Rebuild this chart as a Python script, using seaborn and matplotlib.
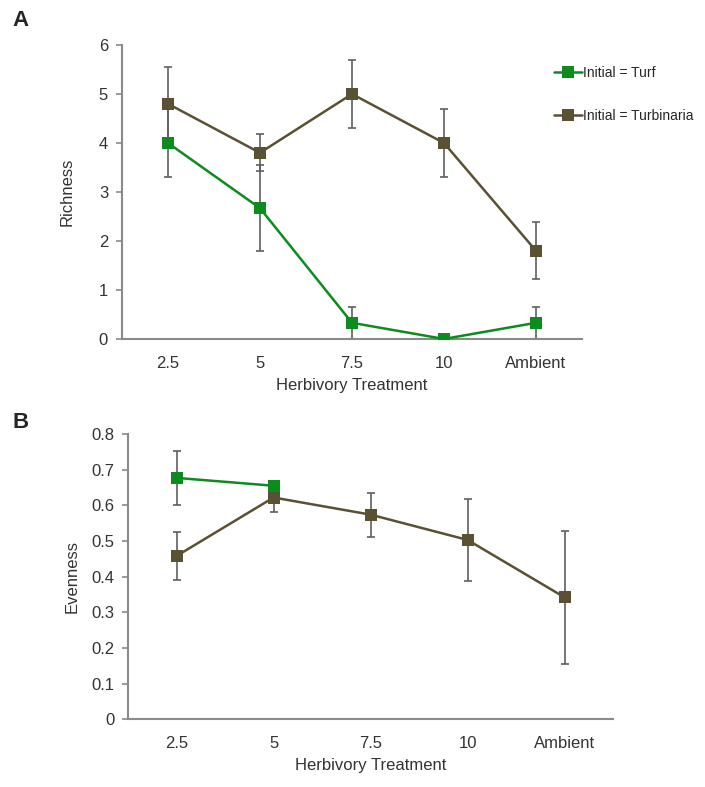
import numpy as np
import pandas as pd
import matplotlib
matplotlib.use("Agg")
import matplotlib.pyplot as plt
import seaborn as sns

categories = ["2.5", "5", "7.5", "10", "Ambient"]
series_names = ["Initial = Turf", "Initial = Turbinaria"]

rich_turf = [4.0, 2.67, 0.33, 0.0, 0.33]
rich_turf_err = [0.70, 0.88, 0.33, 0.0, 0.33]
rich_turb = [4.8, 3.8, 5.0, 4.0, 1.8]
rich_turb_err = [0.75, 0.38, 0.70, 0.70, 0.58]

even_turf = [0.677, 0.655, np.nan, np.nan, np.nan]
even_turf_err = [0.075, 0.0, np.nan, np.nan, np.nan]
even_turb = [0.458, 0.622, 0.574, 0.503, 0.342]
even_turb_err = [0.068, 0.04, 0.062, 0.116, 0.186]

green = "#0c8c1c"
brown = "#5a5033"
err_grey = "#5f5f5f"
spine_grey = "#8a8a8a"

sns.set_theme(style="white")
plt.rcParams["font.family"] = ["Liberation Sans", "DejaVu Sans"]

fig = plt.figure(figsize=(7.05, 7.87), dpi=100)
axA = fig.add_axes([0.173, 0.5693, 0.6525, 0.3735])
axB = fig.add_axes([0.1816, 0.086, 0.688, 0.3625])


def make_df(turf, turb):
    rows = []
    for name, vals in zip(series_names, [turf, turb]):
        for i, v in enumerate(vals):
            rows.append({"pos": i, "value": v, "series": name})
    return pd.DataFrame(rows)


def draw(ax, turf, turf_err, turb, turb_err, ylim, yticks, ylabel, legend, ylabelpad):
    df = make_df(turf, turb)
    pos = np.arange(len(categories))
    for vals, errs in [(turb, turb_err), (turf, turf_err)]:
        v = np.array(vals, dtype=float)
        e = np.array(errs, dtype=float)
        m = ~np.isnan(v) & (np.nan_to_num(e) > 0)
        ax.errorbar(pos[m], v[m], yerr=e[m], fmt="none", ecolor=err_grey,
                    elinewidth=1.2, capsize=3, capthick=1.2, zorder=2)
    sns.lineplot(data=df, x="pos", y="value", hue="series", style="series",
                 palette={series_names[0]: green, series_names[1]: brown},
                 markers={series_names[0]: "s", series_names[1]: "s"},
                 dashes=False, markersize=9, markeredgewidth=0, linewidth=1.8,
                 ax=ax, legend=legend, zorder=3, sort=False)
    ax.set_xlim(-0.5, len(categories) - 0.5)
    ax.set_xticks(pos)
    ax.set_xticklabels(categories)
    ax.set_ylim(*ylim)
    ax.set_yticks(yticks)
    ax.set_yticklabels([("%g" % t) for t in yticks])
    ax.set_xlabel("Herbivory Treatment", fontsize=12, color="#333333", labelpad=5)
    ax.set_ylabel(ylabel, fontsize=12, color="#333333", labelpad=ylabelpad)
    for s in ["top", "right"]:
        ax.spines[s].set_visible(False)
    for s in ["left", "bottom"]:
        ax.spines[s].set_color(spine_grey)
        ax.spines[s].set_linewidth(1.5)
    ax.tick_params(axis="y", left=True, length=4, width=1.2, color=spine_grey,
                   labelsize=12, labelcolor="#333333", pad=6)
    ax.tick_params(axis="x", bottom=False, labelsize=12, labelcolor="#333333", pad=6)
    ax.set_facecolor("white")


draw(axA, rich_turf, rich_turf_err, rich_turb, rich_turb_err,
     (0, 6), [0, 1, 2, 3, 4, 5, 6], "Richness", True, 17)
draw(axB, even_turf, even_turf_err, even_turb, even_turb_err,
     (0, 0.8), [0, 0.1, 0.2, 0.3, 0.4, 0.5, 0.6, 0.7, 0.8], "Evenness", False, 8)

handles, labels = axA.get_legend_handles_labels()
axA.get_legend().remove()
fig.legend(handles, labels, loc="upper left", bbox_to_anchor=(0.778, 0.923),
           frameon=False, fontsize=10, handlelength=2.0, handletextpad=0.1,
           labelspacing=2.1, borderaxespad=0)

fig.text(0.018, 0.987, "A", fontsize=16, fontweight="bold", va="top", ha="left")
fig.text(0.018, 0.477, "B", fontsize=16, fontweight="bold", va="top", ha="left")

fig.savefig("out.png", dpi=100, facecolor="white")
